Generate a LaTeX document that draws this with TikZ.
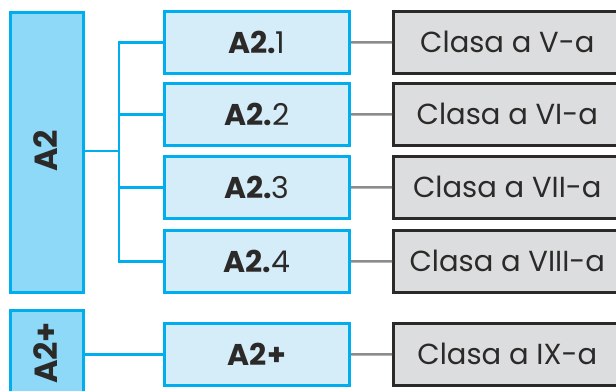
\documentclass[tikz,border=0pt]{standalone}
\usepackage{fontspec}
\setmainfont{Poppins}
\definecolor{cyanb}{HTML}{00AEEF}
\definecolor{bigfill}{HTML}{8ED8F8}
\definecolor{subfill}{HTML}{D5ECF9}
\definecolor{grayfill}{HTML}{DCDDDE}
\definecolor{darkb}{HTML}{2B2A29}
\definecolor{conn}{HTML}{8A8C8E}
\begin{document}
\begin{tikzpicture}[x=1pt,y=-1pt,
  bigbox/.style={draw=cyanb,fill=bigfill,line width=2.8pt,anchor=north west,inner sep=0pt,minimum width=73pt},
  biglbl/.style={rotate=90,font=\fontsize{32}{34}\selectfont\bfseries,text=darkb},
  subbox/.style={draw=cyanb,fill=subfill,line width=2.8pt,anchor=north west,inner sep=0pt,minimum width=185pt,minimum height=62pt,font=\fontsize{30}{32}\selectfont,text=darkb},
  clsbox/.style={draw=darkb,fill=grayfill,line width=2.6pt,anchor=north west,inner sep=0pt,minimum width=228pt,minimum height=62pt,font=\fontsize{29}{32}\selectfont,text=darkb},
  blueln/.style={draw=cyanb,line width=2.8pt},
  grayln/.style={draw=conn,line width=2.4pt}]
\useasboundingbox (0,0) rectangle (616,391);
\begin{scope}
\clip (0,0) rectangle (616,391);
\node[bigbox,minimum height=280pt] (A2) at (9,11) {};
\node[biglbl] (A2t) at (45.5,151) {A2};
\node[bigbox,minimum height=100pt] (A2p) at (9,309) {};
\node[biglbl] (A2pt) at (45.5,353) {A2+};

\node[subbox] (s1) at (163,10) {\textbf{A2.}1};
\node[subbox] (s2) at (163,82) {\textbf{A2.}2};
\node[subbox] (s3) at (163,155) {\textbf{A2.}3};
\node[subbox] (s4) at (163,229) {\textbf{A2.}4};
\node[subbox] (s5) at (163,322) {\textbf{A2+}};

\node[clsbox] (c1) at (392,10) {Clasa a V-a};
\node[clsbox] (c2) at (392,82) {Clasa a VI-a};
\node[clsbox] (c3) at (392,155) {Clasa a VII-a};
\node[clsbox] (c4) at (392,229) {Clasa a VIII-a};
\node[clsbox] (c5) at (392,322) {Clasa a IX-a};

\coordinate (tr) at (119,151);
\draw[blueln] (A2.east|-tr) -- (tr);
\draw[blueln] (s1.west) -| (tr|-s1.west) |- (s4.west);
\draw[blueln] (tr|-s2.west) -- (s2.west);
\draw[blueln] (tr|-s3.west) -- (s3.west);
\draw[blueln] (A2p.east|-s5.west) -- (s5.west);

\foreach \i in {1,...,5} \draw[grayln] (s\i.east) -- (c\i.west);
\end{scope}
\end{tikzpicture}
\end{document}
